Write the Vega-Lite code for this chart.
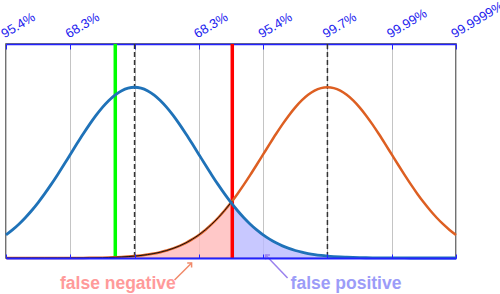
{
  "$schema": "https://vega.github.io/schema/vega-lite/v6.json",
  "width": 450,
  "height": 214,
  "autosize": "none",
  "padding": {"left": 6, "top": 44, "right": 44, "bottom": 36},
  "background": "white",
  "config": {"view": {"stroke": "#444", "strokeWidth": 1.5}},
  "datasets": {
    "curves": [
      {"x": -2.0, "b": 0.05399, "o": 0.0},
      {"x": -1.9, "b": 0.06562, "o": 0.0},
      {"x": -1.8, "b": 0.07895, "o": 0.0},
      {"x": -1.7, "b": 0.09405, "o": 0.00001},
      {"x": -1.6, "b": 0.11092, "o": 0.00001},
      {"x": -1.5, "b": 0.12952, "o": 0.00002},
      {"x": -1.4, "b": 0.14973, "o": 0.00002},
      {"x": -1.3, "b": 0.17137, "o": 0.00004},
      {"x": -1.2, "b": 0.19419, "o": 0.00006},
      {"x": -1.1, "b": 0.21785, "o": 0.00009},
      {"x": -1.0, "b": 0.24197, "o": 0.00013},
      {"x": -0.9, "b": 0.26609, "o": 0.0002},
      {"x": -0.8, "b": 0.28969, "o": 0.00029},
      {"x": -0.7, "b": 0.31225, "o": 0.00042},
      {"x": -0.6, "b": 0.33322, "o": 0.00061},
      {"x": -0.5, "b": 0.35207, "o": 0.00087},
      {"x": -0.4, "b": 0.36827, "o": 0.00123},
      {"x": -0.3, "b": 0.38139, "o": 0.00172},
      {"x": -0.2, "b": 0.39104, "o": 0.00238},
      {"x": -0.1, "b": 0.39695, "o": 0.00327},
      {"x": 0.0, "b": 0.39894, "o": 0.00443},
      {"x": 0.1, "b": 0.39695, "o": 0.00595},
      {"x": 0.2, "b": 0.39104, "o": 0.00792},
      {"x": 0.3, "b": 0.38139, "o": 0.01042},
      {"x": 0.4, "b": 0.36827, "o": 0.01358},
      {"x": 0.5, "b": 0.35207, "o": 0.01753},
      {"x": 0.6, "b": 0.33322, "o": 0.02239},
      {"x": 0.7, "b": 0.31225, "o": 0.02833},
      {"x": 0.8, "b": 0.28969, "o": 0.03547},
      {"x": 0.9, "b": 0.26609, "o": 0.04398},
      {"x": 1.0, "b": 0.24197, "o": 0.05399},
      {"x": 1.1, "b": 0.21785, "o": 0.06562},
      {"x": 1.2, "b": 0.19419, "o": 0.07895},
      {"x": 1.3, "b": 0.17137, "o": 0.09405},
      {"x": 1.4, "b": 0.14973, "o": 0.11092},
      {"x": 1.5, "b": 0.12952, "o": 0.12952},
      {"x": 1.52, "b": 0.12565, "o": 0.13342},
      {"x": 1.6, "b": 0.11092, "o": 0.14973},
      {"x": 1.7, "b": 0.09405, "o": 0.17137},
      {"x": 1.8, "b": 0.07895, "o": 0.19419},
      {"x": 1.9, "b": 0.06562, "o": 0.21785},
      {"x": 2.0, "b": 0.05399, "o": 0.24197},
      {"x": 2.1, "b": 0.04398, "o": 0.26609},
      {"x": 2.2, "b": 0.03547, "o": 0.28969},
      {"x": 2.3, "b": 0.02833, "o": 0.31225},
      {"x": 2.4, "b": 0.02239, "o": 0.33322},
      {"x": 2.5, "b": 0.01753, "o": 0.35207},
      {"x": 2.6, "b": 0.01358, "o": 0.36827},
      {"x": 2.7, "b": 0.01042, "o": 0.38139},
      {"x": 2.8, "b": 0.00792, "o": 0.39104},
      {"x": 2.9, "b": 0.00595, "o": 0.39695},
      {"x": 3.0, "b": 0.00443, "o": 0.39894},
      {"x": 3.1, "b": 0.00327, "o": 0.39695},
      {"x": 3.2, "b": 0.00238, "o": 0.39104},
      {"x": 3.3, "b": 0.00172, "o": 0.38139},
      {"x": 3.4, "b": 0.00123, "o": 0.36827},
      {"x": 3.5, "b": 0.00087, "o": 0.35207},
      {"x": 3.6, "b": 0.00061, "o": 0.33322},
      {"x": 3.7, "b": 0.00042, "o": 0.31225},
      {"x": 3.8, "b": 0.00029, "o": 0.28969},
      {"x": 3.9, "b": 0.0002, "o": 0.26609},
      {"x": 4.0, "b": 0.00013, "o": 0.24197},
      {"x": 4.1, "b": 0.00009, "o": 0.21785},
      {"x": 4.2, "b": 0.00006, "o": 0.19419},
      {"x": 4.3, "b": 0.00004, "o": 0.17137},
      {"x": 4.4, "b": 0.00002, "o": 0.14973},
      {"x": 4.5, "b": 0.00002, "o": 0.12952},
      {"x": 4.6, "b": 0.00001, "o": 0.11092},
      {"x": 4.7, "b": 0.00001, "o": 0.09405},
      {"x": 4.8, "b": 0.0, "o": 0.07895},
      {"x": 4.9, "b": 0.0, "o": 0.06562},
      {"x": 5.0, "b": 0.0, "o": 0.05399}
    ]
  },
  "resolve": {"axis": {"x": "independent"}},
  "layer": [
    {
      "data": {"name": "curves"},
      "transform": [{"filter": "datum.x >= 1.52"}],
      "mark": {"type": "area", "color": "#babaff", "opacity": 0.8, "interpolate": "monotone"},
      "encoding": {
        "x": {"field": "x", "type": "quantitative", "scale": {"domain": [-2, 5], "nice": false, "zero": false},
          "axis": {"orient": "top", "values": [-2, -1, 0, 1, 2, 3, 4, 5], "grid": true, "gridColor": "#c4c4c4", "gridWidth": 1,
            "domainColor": "#2222ff", "domainWidth": 1.5, "tickColor": "#2222ff", "tickSize": -5, "tickWidth": 1,
            "labelExpr": "datum.value == -2 ? '95.4%' : datum.value == -1 ? '68.3%' : datum.value == 1 ? '68.3%' : datum.value == 2 ? '95.4%' : datum.value == 3 ? '99.7%' : datum.value == 4 ? '99.99%' : datum.value == 5 ? '99.9999%' : ''",
            "labelAngle": -31, "labelAlign": "left", "labelBaseline": "alphabetic", "labelColor": "#2020ee",
            "labelFont": "Liberation Sans", "labelFontSize": 13, "labelPadding": 11, "labelOffset": -2,
            "labelBound": false, "labelOverlap": false, "labelFlush": false, "title": null, "zindex": 0}},
        "y": {"field": "b", "type": "quantitative", "scale": {"domain": [0, 0.5], "nice": false}, "axis": null}
      }
    },
    {
      "data": {"name": "curves"},
      "transform": [{"filter": "datum.x <= 1.52"}],
      "mark": {"type": "area", "color": "#ffbaba", "opacity": 0.8, "interpolate": "monotone"},
      "encoding": {
        "x": {"field": "x", "type": "quantitative",
          "axis": {"orient": "bottom", "values": [-2, -1, 0, 1, 2, 3, 4, 5], "grid": false, "labels": false,
            "domainColor": "#2222ff", "domainWidth": 2, "tickColor": "#2222ff", "tickSize": -4, "tickWidth": 1,
            "title": null, "zindex": 1}},
        "y": {"field": "o", "type": "quantitative"}
      }
    },
    {
      "data": {"values": [{"x": -0.3}]},
      "mark": {"type": "rule", "color": "#00ff00", "strokeWidth": 3.5},
      "encoding": {"x": {"field": "x", "type": "quantitative", "axis": null}}
    },
    {
      "data": {"values": [{"x": 1.52}]},
      "mark": {"type": "rule", "color": "#ff0000", "strokeWidth": 3.5},
      "encoding": {"x": {"field": "x", "type": "quantitative", "axis": null}}
    },
    {
      "data": {"values": [{"x": 0}, {"x": 3}]},
      "mark": {"type": "rule", "color": "#333333", "strokeWidth": 1.5, "strokeDash": [5, 3]},
      "encoding": {"x": {"field": "x", "type": "quantitative", "axis": null}}
    },
    {
      "data": {"name": "curves"},
      "mark": {"type": "line", "color": "#dd5f22", "strokeWidth": 2.5, "interpolate": "monotone"},
      "encoding": {
        "x": {"field": "x", "type": "quantitative", "axis": null},
        "y": {"field": "o", "type": "quantitative"}
      }
    },
    {
      "data": {"name": "curves"},
      "transform": [{"filter": "datum.x <= 1.52"}],
      "mark": {"type": "line", "color": "#111111", "strokeWidth": 1, "interpolate": "monotone"},
      "encoding": {
        "x": {"field": "x", "type": "quantitative", "axis": null},
        "y": {"field": "o", "type": "quantitative"}
      }
    },
    {
      "data": {"name": "curves"},
      "mark": {"type": "line", "color": "#1f72b8", "strokeWidth": 2.8, "interpolate": "monotone"},
      "encoding": {
        "x": {"field": "x", "type": "quantitative", "axis": null},
        "y": {"field": "b", "type": "quantitative"}
      }
    },
    {
      "data": {"values": [{"x": 0.622, "y": -0.0514, "x2": 0.887, "y2": -0.0117}]},
      "mark": {"type": "rule", "color": "#f08a6a", "strokeWidth": 1.5},
      "encoding": {
        "x": {"field": "x", "type": "quantitative", "axis": null},
        "y": {"field": "y", "type": "quantitative"},
        "x2": {"field": "x2"},
        "y2": {"field": "y2"}
      }
    },
    {
      "data": {"values": [{"x": 0.887, "y": -0.0117}]},
      "mark": {"type": "point", "shape": "M-0.8,0.8L0,0L0.8,0.8", "filled": false, "opacity": 1, "color": "#f08a6a", "strokeWidth": 1.5, "size": 60, "angle": 45},
      "encoding": {
        "x": {"field": "x", "type": "quantitative", "axis": null},
        "y": {"field": "y", "type": "quantitative"}
      }
    },
    {
      "data": {"values": [{"x": 2.38, "y": -0.0467, "x2": 2.038, "y2": 0.007}]},
      "mark": {"type": "rule", "color": "#9a82ee", "strokeWidth": 1.5},
      "encoding": {
        "x": {"field": "x", "type": "quantitative", "axis": null},
        "y": {"field": "y", "type": "quantitative"},
        "x2": {"field": "x2"},
        "y2": {"field": "y2"}
      }
    },
    {
      "data": {"values": [{"x": 2.038, "y": 0.007}]},
      "mark": {"type": "point", "shape": "M-0.8,0.8L0,0L0.8,0.8", "filled": false, "opacity": 1, "color": "#9a82ee", "strokeWidth": 1.5, "size": 60, "angle": 316},
      "encoding": {
        "x": {"field": "x", "type": "quantitative", "axis": null},
        "y": {"field": "y", "type": "quantitative"}
      }
    },
    {
      "data": {"values": [{"x": -0.26, "y": -0.0724, "label": "false negative"}]},
      "mark": {"type": "text", "color": "#ff9a9a", "font": "Liberation Sans", "fontWeight": "bold", "fontSize": 17.5, "align": "center", "baseline": "alphabetic"},
      "encoding": {
        "x": {"field": "x", "type": "quantitative", "axis": null},
        "y": {"field": "y", "type": "quantitative"},
        "text": {"field": "label"}
      }
    },
    {
      "data": {"values": [{"x": 3.289, "y": -0.0724, "label": "false positive"}]},
      "mark": {"type": "text", "color": "#9c9cf8", "font": "Liberation Sans", "fontWeight": "bold", "fontSize": 17.5, "align": "center", "baseline": "alphabetic"},
      "encoding": {
        "x": {"field": "x", "type": "quantitative", "axis": null},
        "y": {"field": "y", "type": "quantitative"},
        "text": {"field": "label"}
      }
    }
  ]
}
